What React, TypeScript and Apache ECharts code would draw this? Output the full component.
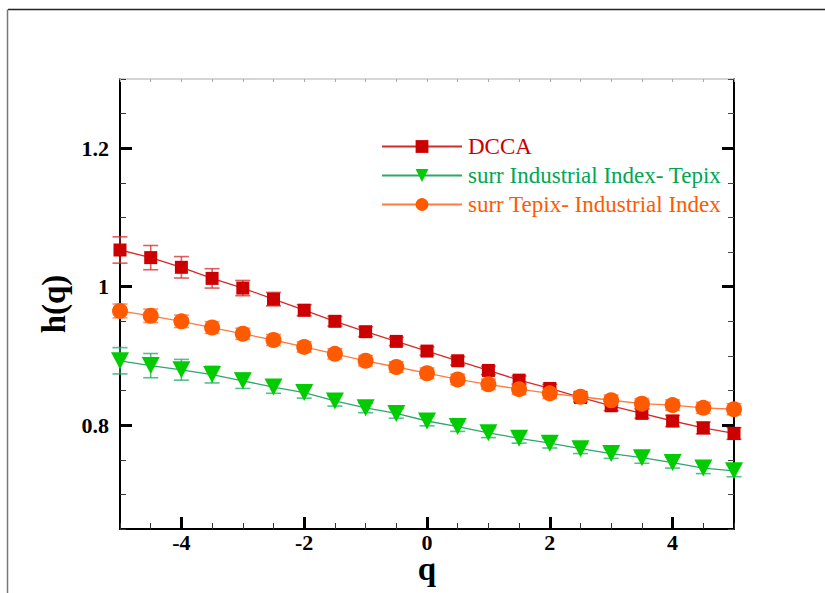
import React, { useEffect, useRef } from "react";
import * as echarts from "echarts";

const qValues = [-5, -4.5, -4, -3.5, -3, -2.5, -2, -1.5, -1, -0.5, 0, 0.5, 1, 1.5, 2, 2.5, 3, 3.5, 4, 4.5, 5];

const dcca = [1.053, 1.042, 1.028, 1.012, 0.998, 0.982, 0.966, 0.950, 0.935, 0.921, 0.907, 0.893, 0.879, 0.865, 0.853, 0.840, 0.828, 0.817, 0.806, 0.796, 0.788];
const dccaErr = [0.019, 0.0175, 0.0155, 0.014, 0.011, 0.0097, 0.008, 0.007, 0.007, 0.006, 0.006, 0.006, 0.006, 0.006, 0.006, 0.006, 0.007, 0.007, 0.008, 0.0085, 0.0085];

const surrIndTep = [0.893, 0.886, 0.880, 0.873, 0.864, 0.855, 0.847, 0.835, 0.825, 0.817, 0.806, 0.798, 0.789, 0.781, 0.774, 0.766, 0.759, 0.753, 0.746, 0.738, 0.734];
const surrIndTepErr = [0.019, 0.0175, 0.015, 0.012, 0.011, 0.009, 0.008, 0.0075, 0.007, 0.007, 0.007, 0.007, 0.007, 0.007, 0.007, 0.007, 0.007, 0.008, 0.008, 0.008, 0.0085];

const surrTepInd = [0.965, 0.958, 0.950, 0.941, 0.932, 0.923, 0.913, 0.903, 0.893, 0.884, 0.875, 0.866, 0.859, 0.852, 0.846, 0.841, 0.836, 0.831, 0.829, 0.825, 0.823];
const surrTepIndErr = [0.010, 0.0097, 0.009, 0.0085, 0.008, 0.008, 0.0075, 0.0075, 0.0075, 0.0075, 0.0075, 0.0075, 0.0075, 0.0075, 0.0075, 0.0075, 0.0075, 0.0075, 0.0075, 0.008, 0.008];

const xMajorTicks = [-4, -2, 0, 2, 4];
const yMajorTicks = [0.8, 1, 1.2];

const seriesNames = ["DCCA", "surr Industrial Index- Tepix", "surr Tepix- Industrial Index"];

const FONT = "'Liberation Serif', 'Times New Roman', serif";

function errorSeries(values: number[], errs: number[], color: string, z: number) {
  return {
    type: "custom",
    xAxisIndex: 0,
    yAxisIndex: 0,
    z,
    silent: true,
    data: qValues.map((q, i) => [q, values[i] - errs[i], values[i] + errs[i]]),
    encode: { x: 0, y: [1, 2] },
    renderItem: (params: any, api: any) => {
      const x = api.value(0);
      const lo = api.coord([x, api.value(1)]);
      const hi = api.coord([x, api.value(2)]);
      const hw = 7.5;
      const style = { stroke: color, lineWidth: 1.6 };
      return {
        type: "group",
        children: [
          { type: "line", shape: { x1: lo[0], y1: lo[1], x2: hi[0], y2: hi[1] }, style },
          { type: "line", shape: { x1: lo[0] - hw, y1: lo[1], x2: lo[0] + hw, y2: lo[1] }, style },
          { type: "line", shape: { x1: hi[0] - hw, y1: hi[1], x2: hi[0] + hw, y2: hi[1] }, style },
        ],
      };
    },
  };
}

export default function App() {
  const ref = useRef<HTMLDivElement>(null);
  useEffect(() => {
    const chart = echarts.init(ref.current!, null, { renderer: "svg" });
    const axisBase = {
      type: "value",
      min: -5,
      max: 5,
      gridIndex: 0,
      splitLine: { show: false },
    };
    const yBase = {
      type: "value",
      min: 0.65,
      max: 1.3,
      gridIndex: 0,
      splitLine: { show: false },
    };
    const option: any = {
      animation: false,
      backgroundColor: "#ffffff",
      grid: { left: 120, right: 91, top: 79, bottom: 64, containLabel: false, outerBoundsMode: "none" },
      graphic: [
        { type: "line", shape: { x1: 8, y1: 9.5, x2: 825, y2: 9.5 }, style: { stroke: "#222", lineWidth: 1.5 } },
        { type: "line", shape: { x1: 7.5, y1: 9.5, x2: 7.5, y2: 593 }, style: { stroke: "#777", lineWidth: 1.5 } },
      ],
      legend: seriesNames.map((n, i) => ({
        data: [n],
        left: 381,
        top: 135 + i * 29,
        itemWidth: 80,
        itemHeight: 16,
        itemGap: 0,
        padding: 0,
        textStyle: {
          fontFamily: FONT,
          fontSize: 23,
          color: ["#cc0000", "#00a651", "#ff5a00"][i],
          padding: [0, 0, 0, 1],
        },
      })),
      xAxis: [
        {
          ...axisBase,
          interval: 0.5,
          position: "bottom",
          axisLine: { show: true, onZero: false, lineStyle: { color: "#000", width: 2 } },
          axisTick: { show: true, inside: true, length: 6, lineStyle: { color: "#333", width: 1 } },
          axisLabel: { show: false },
          name: "q",
          nameLocation: "middle",
          nameGap: 27,
          nameMoveOverlap: false,
          nameTextStyle: { fontFamily: FONT, fontSize: 33, fontWeight: "bold", color: "#000", lineHeight: 26 },
        },
        {
          ...axisBase,
          interval: 1,
          position: "bottom",
          axisLine: { show: false, onZero: false },
          axisTick: { show: true, inside: true, length: 12, customValues: xMajorTicks, lineStyle: { color: "#000", width: 3 } },
          axisLabel: {
            show: true,
            customValues: xMajorTicks,
            fontFamily: FONT,
            fontSize: 22,
            fontWeight: "bold",
            color: "#000",
            margin: 4,
            lineHeight: 18,
          },
        },
        {
          ...axisBase,
          interval: 0.5,
          position: "top",
          axisLine: { show: true, onZero: false, lineStyle: { color: "#c8c8c8", width: 1.5 } },
          axisTick: { show: true, inside: true, length: 3, lineStyle: { color: "#aaa", width: 1 } },
          axisLabel: { show: false },
        },
      ],
      yAxis: [
        {
          ...yBase,
          interval: 0.05,
          position: "left",
          axisLine: { show: true, onZero: false, lineStyle: { color: "#000", width: 2 } },
          axisTick: { show: true, inside: true, length: 6, lineStyle: { color: "#333", width: 1 } },
          axisLabel: { show: false },
        },
        {
          ...yBase,
          interval: 0.05,
          position: "left",
          axisLine: { show: false, onZero: false },
          axisTick: { show: true, inside: true, length: 12, customValues: yMajorTicks, lineStyle: { color: "#000", width: 3 } },
          axisLabel: {
            show: true,
            customValues: yMajorTicks,
            fontFamily: FONT,
            fontSize: 22,
            fontWeight: "bold",
            color: "#000",
            margin: 11,
            formatter: (v: number) => String(Math.round(v * 10) / 10),
          },
          name: "h(q)",
          nameLocation: "middle",
          nameRotate: 90,
          nameGap: 45,
          nameTextStyle: { fontFamily: FONT, fontSize: 33, fontWeight: "bold", color: "#000" },
        },
        {
          ...yBase,
          interval: 0.05,
          position: "right",
          axisLine: { show: true, onZero: false, lineStyle: { color: "#000", width: 2 } },
          axisTick: { show: true, inside: true, length: 6, lineStyle: { color: "#444", width: 1 } },
          axisLabel: { show: false },
        },
        {
          ...yBase,
          interval: 0.05,
          position: "right",
          axisLine: { show: false, onZero: false },
          axisTick: { show: true, inside: true, length: 12, customValues: yMajorTicks, lineStyle: { color: "#000", width: 3 } },
          axisLabel: { show: false },
        },
      ],
      series: [
        errorSeries(dcca, dccaErr, "rgba(215,40,40,0.75)", 2),
        errorSeries(surrIndTep, surrIndTepErr, "rgba(30,170,100,0.75)", 2),
        errorSeries(surrTepInd, surrTepIndErr, "rgba(255,110,60,0.75)", 2),
        {
          name: seriesNames[0],
          type: "line",
          xAxisIndex: 0,
          yAxisIndex: 0,
          z: 3,
          data: qValues.map((q, i) => [q, dcca[i]]),
          symbol: "rect",
          symbolSize: 13,
          lineStyle: { color: "#d42a2a", width: 1.3 },
          itemStyle: { color: "#cc0000" },
        },
        {
          name: seriesNames[1],
          type: "line",
          xAxisIndex: 0,
          yAxisIndex: 0,
          z: 3,
          data: qValues.map((q, i) => [q, surrIndTep[i]]),
          symbol: "path://M0,0 L10,0 L5,10 Z",
          symbolSize: [18, 17],
          lineStyle: { color: "#2aa86a", width: 1.3 },
          itemStyle: { color: "#00cc00" },
        },
        {
          name: seriesNames[2],
          type: "line",
          xAxisIndex: 0,
          yAxisIndex: 0,
          z: 3,
          data: qValues.map((q, i) => [q, surrTepInd[i]]),
          symbol: "circle",
          symbolSize: 16,
          lineStyle: { color: "#ff7a40", width: 1.3 },
          itemStyle: { color: "#ff5a00" },
        },
      ],
    };
    chart.setOption(option);
    return () => chart.dispose();
  }, []);
  return (
    <div
      ref={ref}
      style={{ position: "fixed", left: 0, top: 0, width: 825, height: 593, background: "#fff" }}
    />
  );
}
